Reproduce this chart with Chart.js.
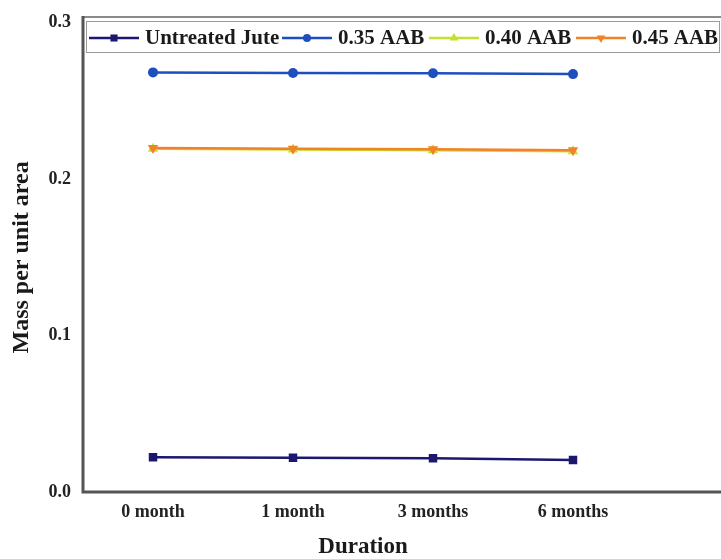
<!DOCTYPE html>
<html>
<head>
<meta charset="utf-8">
<title>Mass per unit area</title>
<script src="https://cdn.jsdelivr.net/npm/chart.js@4/dist/chart.umd.min.js"></script>
<style>
  html, body { margin: 0; padding: 0; background: #fff; }
  #wrap { width: 721px; height: 559px; }
</style>
</head>
<body>
<div id="wrap"><canvas id="chart" width="721" height="559"></canvas></div>
<script>
// Werte
const durations = ['0 month', '1 month', '3 months', '6 months'];
const untreatedJute = [0.0222, 0.0219, 0.0216, 0.0204];
const aab035 = [0.2683, 0.2679, 0.2677, 0.2672];
const aab040 = [0.2194, 0.2190, 0.2185, 0.2179];
const aab045 = [0.2200, 0.2195, 0.2191, 0.2185];
const yTicks = [0, 0.1, 0.2, 0.3];

const serif = "'Liberation Serif', 'Times New Roman', serif";

const series = [
    { label: 'Untreated Jute', data: untreatedJute, color: '#1c1870', style: 'rect', radius: 6, rotation: 0, order: 1 },
    { label: '0.35 AAB', data: aab035, color: '#1f4fbf', style: 'circle', radius: 5, rotation: 0, order: 2 },
    { label: '0.40 AAB', data: aab040, color: '#c6e02c', style: 'triangle', radius: 6, rotation: 0, order: 4 },
    { label: '0.45 AAB', data: aab045, color: '#f08228', style: 'triangle', radius: 6, rotation: 180, order: 3 }
];

// x-Positionen der Legendentexte
const legendTextX = [145, 338, 485, 632];

// Rahmen oben, Achsenlinien bis zum Rand, Legende im Plotbereich
const framePlugin = {
    id: 'framePlugin',
    afterDraw(chart) {
        const ctx = chart.ctx;
        const area = chart.chartArea;
        const W = chart.width;
        ctx.save();
        // oberer Rahmen
        ctx.strokeStyle = '#8a8a8a';
        ctx.lineWidth = 2;
        ctx.beginPath();
        ctx.moveTo(area.left, 17);
        ctx.lineTo(W, 17);
        ctx.stroke();
        // Achsen: links bis zum Rahmen, unten bis zum Bildrand
        ctx.strokeStyle = '#555';
        ctx.lineWidth = 3;
        ctx.beginPath();
        ctx.moveTo(area.left, 16);
        ctx.lineTo(area.left, area.bottom);
        ctx.lineTo(W, area.bottom);
        ctx.stroke();

        // Legendenkasten
        const boxTop = 21, boxBottom = 53, boxLeft = 86, boxRight = 720;
        ctx.fillStyle = '#fff';
        ctx.fillRect(boxLeft, boxTop, boxRight - boxLeft, boxBottom - boxTop);
        ctx.strokeStyle = '#9a9a9a';
        ctx.lineWidth = 1;
        ctx.strokeRect(boxLeft + 0.5, boxTop + 0.5, boxRight - boxLeft - 1, boxBottom - boxTop - 1);

        ctx.font = 'bold 21px ' + serif;
        ctx.textBaseline = 'middle';
        ctx.textAlign = 'left';
        const cy = 38;
        series.forEach((s, i) => {
            const tx = legendTextX[i];
            const x = tx - 56;
            ctx.strokeStyle = s.color;
            ctx.fillStyle = s.color;
            ctx.lineWidth = 2.5;
            ctx.beginPath();
            ctx.moveTo(x, cy);
            ctx.lineTo(x + 50, cy);
            ctx.stroke();
            Chart.helpers.drawPoint(ctx, { pointStyle: s.style, rotation: s.rotation, radius: s.radius - 1, borderWidth: 0 }, x + 25, cy);
            ctx.fillStyle = '#1a1a1a';
            ctx.fillText(s.label, tx, cy + 1, 720 - tx - 2);
        });
        ctx.restore();
    }
};

new Chart(document.getElementById('chart'), {
    type: 'line',
    data: {
        labels: durations,
        datasets: series.map(s => ({
            label: s.label,
            data: s.data,
            borderColor: s.color,
            backgroundColor: s.color,
            borderWidth: 2.5,
            pointStyle: s.style,
            pointRotation: s.rotation,
            pointRadius: s.radius,
            pointBorderWidth: 0,
            order: s.order,
            tension: 0,
            fill: false
        }))
    },
    options: {
        responsive: false,
        animation: false,
        devicePixelRatio: 1,
        layout: { padding: { top: 20, right: 78, bottom: 0, left: 0 } },
        plugins: {
            legend: { display: false },
            tooltip: { enabled: false }
        },
        scales: {
            x: {
                type: 'category',
                offset: true,
                grid: { display: false, drawTicks: false },
                border: { display: false },
                ticks: { padding: 10, color: '#222', font: { family: serif, size: 18, weight: 'bold' } },
                title: {
                    display: true,
                    text: 'Duration',
                    color: '#1a1a1a',
                    padding: 0,
                    font: { family: serif, size: 23, weight: 'bold', lineHeight: 1 }
                },
                afterFit(scale) { scale.height = 67; }
            },
            y: {
                min: 0,
                max: 0.3,
                grid: { display: false, drawTicks: false },
                border: { display: false },
                afterBuildTicks(scale) { scale.ticks = yTicks.map(v => ({ value: v })); },
                ticks: {
                    padding: 12,
                    color: '#222',
                    font: { family: serif, size: 18, weight: 'bold' },
                    callback: v => v.toFixed(1)
                },
                title: {
                    display: true,
                    text: 'Mass per unit area',
                    color: '#1a1a1a',
                    padding: { top: 10, bottom: 0 },
                    font: { family: serif, size: 24, weight: 'bold', lineHeight: 1 }
                },
                afterFit(scale) { scale.width = 83; }
            }
        }
    },
    plugins: [framePlugin]
});
</script>
</body>
</html>
